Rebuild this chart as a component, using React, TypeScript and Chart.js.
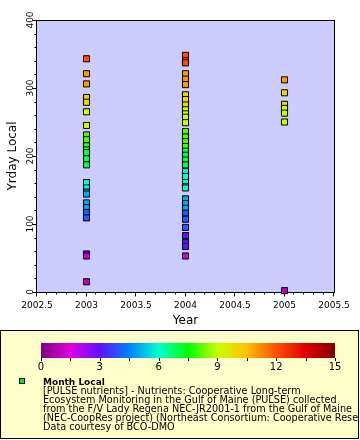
import React, { useEffect, useRef } from 'react';
import { Chart, registerables } from 'chart.js';
Chart.register(...registerables);

// ---- data ----
const yrday2003 = [343, 321, 306, 286, 279, 265, 245, 231, 224, 215, 209, 205, 196, 187, 161, 153, 147, 144, 131, 124, 117, 109, 56, 53, 15];
const month2003 = [12, 11, 11, 10, 10, 9, 9, 8, 8, 8, 7, 7, 7, 7, 6, 6, 5, 5, 5, 5, 4, 4, 2, 2, 1];
const yrday2004 = [348, 340, 337, 321, 313, 305, 290, 283, 275, 268, 262, 257, 249, 236, 228, 221, 214, 207, 201, 194, 187, 177, 170, 161, 155, 153, 137, 130, 123, 116, 107, 95, 83, 73, 67, 53];
const month2004 = [12, 12, 12, 11, 11, 11, 10, 10, 10, 9, 9, 9, 9, 8, 8, 8, 8, 7, 7, 7, 7, 6, 6, 6, 6, 6, 5, 5, 5, 4, 4, 4, 3, 3, 3, 2];
const yrday2005 = [312, 293, 276, 270, 263, 250, 2];
const month2005 = [11, 10, 10, 9, 9, 9, 1];

const xTicks = [2002.5, 2003, 2003.5, 2004, 2004.5, 2005, 2005.5];
const yTicks = [0, 100, 200, 300, 400];
const cbTicks = [0, 3, 6, 9, 12, 15];

const legendTitle = 'Month Local';
const legendLines = [
  '[PULSE nutrients] - Nutrients: Cooperative Long-term',
  'Ecosystem Monitoring in the Gulf of Maine (PULSE) collected',
  'from the F/V Lady Regena NEC-JR2001-1 from the Gulf of Maine',
  '(NEC-CoopRes project) (Northeast Consortium: Cooperative Research)',
  'Data courtesy of BCO-DMO',
];

// colormap stops (value, rgb)
const cmap: [number, number[]][] = [
  [0, [128, 0, 128]],
  [1.5, [224, 0, 224]],
  [3, [96, 16, 255]],
  [4.5, [0, 128, 255]],
  [6, [0, 255, 208]],
  [7.5, [0, 255, 0]],
  [9, [200, 255, 0]],
  [10.5, [255, 192, 0]],
  [12, [255, 80, 0]],
  [13.5, [224, 0, 0]],
  [15, [128, 0, 0]],
];

function colorFor(v: number): string {
  for (let i = 0; i < cmap.length - 1; i++) {
    const [a, ca] = cmap[i];
    const [b, cb] = cmap[i + 1];
    if (v >= a && v <= b) {
      const t = (v - a) / (b - a);
      const c = ca.map((x, k) => Math.round(x + (cb[k] - x) * t));
      return `rgb(${c[0]},${c[1]},${c[2]})`;
    }
  }
  const c = cmap[cmap.length - 1][1];
  return `rgb(${c[0]},${c[1]},${c[2]})`;
}

const FONT = '"DejaVu Sans", sans-serif';

const decor = {
  id: 'decor',
  beforeDatasetsDraw(chart: any) {
    const { ctx, chartArea: a, scales } = chart;
    const xs = scales.x;
    const ys = scales.y;
    ctx.save();
    ctx.fillStyle = '#ccccff';
    ctx.fillRect(a.left, a.top, a.right - a.left, a.bottom - a.top);
    ctx.strokeStyle = '#000';
    ctx.lineWidth = 1;
    const L = 36.5, T = 20.5, R = 334.5, B = 292.5;
    ctx.strokeRect(L, T, R - L, B - T);

    // x ticks
    ctx.beginPath();
    for (let i = 0; i <= 30; i++) {
      const v = 2002.5 + i * 0.1;
      const px = Math.round(xs.getPixelForValue(v)) - 0.5;
      const len = i % 5 === 0 ? 4 : 2;
      ctx.moveTo(px, B);
      ctx.lineTo(px, B + len);
    }
    // y ticks
    for (let i = 0; i <= 20; i++) {
      const v = i * 20;
      const py = Math.round(ys.getPixelForValue(v)) + 0.5;
      const len = i % 5 === 0 ? 4 : 2;
      ctx.moveTo(L, py);
      ctx.lineTo(L - len, py);
    }
    ctx.stroke();

    ctx.fillStyle = '#000';
    ctx.font = `9px ${FONT}`;
    ctx.textAlign = 'center';
    ctx.textBaseline = 'middle';
    xTicks.forEach((v) => {
      ctx.fillText(String(v), xs.getPixelForValue(v), 306);
    });
    yTicks.forEach((v) => {
      ctx.save();
      ctx.translate(31, ys.getPixelForValue(v));
      ctx.rotate(-Math.PI / 2);
      ctx.fillText(String(v), 0, 0);
      ctx.restore();
    });

    ctx.font = `12px ${FONT}`;
    ctx.fillText('Year', (a.left + a.right) / 2, 321);
    ctx.save();
    ctx.translate(12.5, (a.top + a.bottom) / 2);
    ctx.rotate(-Math.PI / 2);
    ctx.fillText('Yrday Local', 0, 0);
    ctx.restore();

    // legend box
    ctx.fillStyle = '#ffffcc';
    ctx.fillRect(0.5, 330.5, 358, 108);
    ctx.strokeRect(0.5, 330.5, 358, 108);

    // colorbar
    const cbL = 41, cbR = 335, cbT = 343, cbB = 358;
    const g = ctx.createLinearGradient(cbL, 0, cbR, 0);
    cmap.forEach(([v, c]) => g.addColorStop(v / 15, `rgb(${c[0]},${c[1]},${c[2]})`));
    ctx.fillStyle = g;
    ctx.fillRect(cbL, cbT, cbR - cbL, cbB - cbT);
    ctx.beginPath();
    for (let i = 0; i <= 10; i++) {
      const px = Math.round(cbL + ((cbR - cbL) * i) / 10) + 0.5;
      ctx.moveTo(px, cbB);
      ctx.lineTo(px, cbB + 3);
    }
    ctx.strokeStyle = '#000';
    ctx.stroke();
    ctx.fillStyle = '#000';
    ctx.font = `10px ${FONT}`;
    ctx.textBaseline = 'middle';
    cbTicks.forEach((v) => {
      ctx.fillText(String(v), cbL + ((cbR - cbL) * v) / 15, 367);
    });

    // legend marker
    ctx.fillStyle = '#00ee00';
    ctx.fillRect(19.5, 378.5, 5, 5);
    ctx.strokeRect(19.5, 378.5, 5, 5);

    ctx.save();
    ctx.beginPath();
    ctx.rect(1, 331, 357, 107);
    ctx.clip();
    ctx.fillStyle = '#000';
    ctx.textAlign = 'left';
    ctx.textBaseline = 'alphabetic';
    ctx.font = `bold 9px ${FONT}`;
    ctx.fillText(legendTitle, 43, 385);
    ctx.font = `9.7px ${FONT}`;
    legendLines.forEach((t, i) => ctx.fillText(t, 43, 394 + i * 9));
    ctx.restore();

    ctx.restore();
  },
};

export default function App() {
  const ref = useRef<HTMLCanvasElement>(null);
  useEffect(() => {
    document.body.style.margin = '0';
    const mk = (year: number, yd: number[]) => yd.map((y) => ({ x: year, y }));
    const allMonths = [...month2003, ...month2004, ...month2005];
    const data = [
      ...mk(2003, yrday2003),
      ...mk(2004, yrday2004),
      ...mk(2005, yrday2005),
    ];
    const chart = new Chart(ref.current!, {
      type: 'scatter',
      data: {
        datasets: [
          {
            data,
            pointStyle: 'rect',
            pointRadius: 4.3,
            pointBorderWidth: 1,
            pointBorderColor: '#000',
            pointBackgroundColor: allMonths.map(colorFor),
            clip: false,
          } as any,
        ],
      },
      options: {
        responsive: false,
        animation: false,
        layout: { padding: { left: 37, top: 20, right: 26, bottom: 148 } },
        scales: {
          x: { type: 'linear', min: 2002.5, max: 2005.5, display: false },
          y: { type: 'linear', min: 0, max: 400, display: false },
        },
        plugins: { legend: { display: false }, tooltip: { enabled: false } },
      },
      plugins: [decor],
    });
    return () => chart.destroy();
  }, []);
  return <canvas ref={ref} width={360} height={440} style={{ display: 'block' }} />;
}
